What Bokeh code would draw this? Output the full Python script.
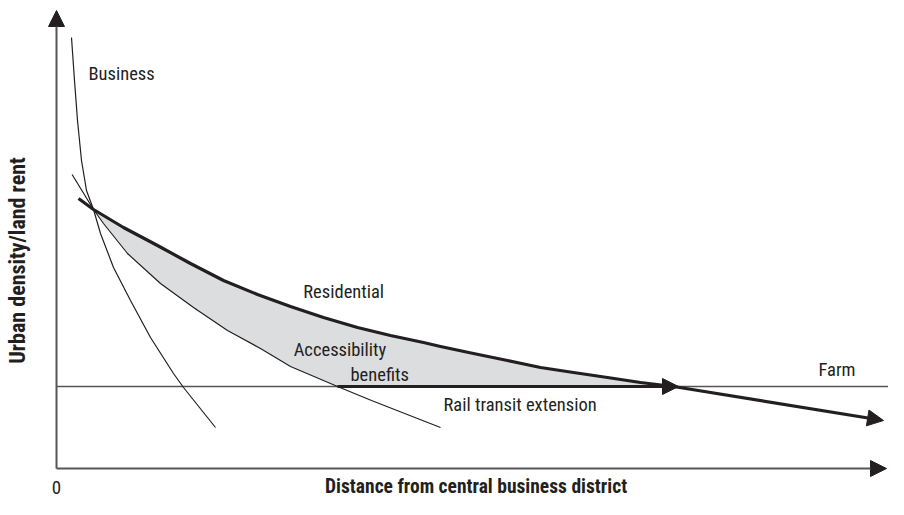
from bokeh.plotting import figure
from bokeh.models import Range1d, Arrow, NormalHead, Label
from bokeh.embed import file_html
from bokeh.resources import INLINE

# Conceptual bid-rent curves (distance units, density units)
business_x = [0.375, 0.45, 0.525, 0.625, 0.75, 0.925, 1.1, 1.425, 1.85, 2.35, 2.925, 3.175, 3.975]
business_y = [10.775, 9.7, 8.7, 7.7, 6.95, 6.475, 5.875, 5.025, 4.2, 3.275, 2.375, 2.025, 1.025]

rail_x = [0.39, 0.925, 1.175, 1.775, 2.6, 3.425, 4.275, 5.1, 5.85, 7.025, 7.875, 9.6]
rail_y = [7.35, 6.475, 6.125, 5.375, 4.625, 4.025, 3.45, 3.0, 2.55, 2.05, 1.7, 1.025]

residential_x = [0.55, 0.925, 1.675, 2.525, 3.35, 4.175, 5.025, 5.85, 6.675, 7.525, 8.35, 9.175,
                 9.6, 10.425, 11.275, 12.1, 12.925, 13.775, 14.6, 15.425, 20.675]
residential_y = [6.75, 6.475, 6.025, 5.575, 5.125, 4.7, 4.35, 4.05, 3.775, 3.525, 3.325, 3.15,
                 3.05, 2.875, 2.7, 2.525, 2.4, 2.275, 2.15, 2.05, 1.2]

farm_level = 2.05
farm_x = [0.0, 21.0]
rail_extension_x = [7.025, 15.55]
axis_x_end = 20.75
axis_y_end = 11.45

FONT = "Roboto Condensed, DejaVu Sans Condensed, Liberation Sans Narrow, Roboto"
INK = "#231f20"

p = figure(width=888, height=499, x_range=Range1d(-1.4, 20.8), y_range=Range1d(-0.775, 11.7),
           output_backend="svg", toolbar_location=None, x_axis_location=None,
           y_axis_location=None, min_border=0)
p.grid.visible = False
p.outline_line_color = None
p.background_fill_color = "white"
p.border_fill_color = "white"

# shaded accessibility benefits area
shade_x = residential_x[1:-1] + rail_x[1:10][::-1]
shade_y = residential_y[1:-1] + rail_y[1:10][::-1]
p.patch(shade_x, shade_y, fill_color="#dcdddf", line_color=None)

# farm line
p.line(farm_x, [farm_level, farm_level], line_color="#555555", line_width=1.6)

# thin curves
p.line(business_x, business_y, line_color=INK, line_width=1.2)
p.line(rail_x, rail_y, line_color=INK, line_width=1.2)

# residential thick curve with arrow tail
p.line(residential_x[:-1], residential_y[:-1], line_color=INK, line_width=3.2, line_join="round")
p.add_layout(Arrow(x_start=residential_x[-2], y_start=residential_y[-2],
                   x_end=residential_x[-1], y_end=residential_y[-1],
                   line_color=INK, line_width=3.2,
                   end=NormalHead(size=16, fill_color=INK, line_color=INK)))

# rail transit extension arrow along farm line
p.add_layout(Arrow(x_start=rail_extension_x[0], y_start=farm_level,
                   x_end=rail_extension_x[1], y_end=farm_level,
                   line_color=INK, line_width=3.2,
                   end=NormalHead(size=16, fill_color=INK, line_color=INK)))

# axes with arrows
p.add_layout(Arrow(x_start=0, y_start=0, x_end=0, y_end=axis_y_end,
                   line_color="#555555", line_width=2,
                   end=NormalHead(size=16, fill_color=INK, line_color=INK)))
p.add_layout(Arrow(x_start=0, y_start=0, x_end=axis_x_end, y_end=0,
                   line_color="#555555", line_width=2,
                   end=NormalHead(size=16, fill_color=INK, line_color=INK)))

def lab(x, y, text, size="18.5px", align="left", style="normal", angle=0):
    p.add_layout(Label(x=x, y=y, text=text, text_font=FONT, text_font_size=size,
                       text_color=INK, text_align=align, text_baseline="alphabetic",
                       text_font_style=style, angle=angle, angle_units="deg"))

lab(0.8, 9.87, "Business")
lab(6.17, 4.41, "Residential")
lab(5.93, 2.97, "Accessibility")
lab(7.35, 2.35, "benefits")
lab(9.675, 1.6, "Rail transit extension")
lab(19.05, 2.47, "Farm")
lab(0, -0.48, "0", size="19px", align="center")
lab(10.49, -0.45, "Distance from central business district", size="19.5px", align="center", style="bold")
lab(-0.975, 5.2, "Urban density/land rent", size="22px", align="center", style="bold", angle=90)

open("out.html", "w").write(file_html(p, INLINE))
